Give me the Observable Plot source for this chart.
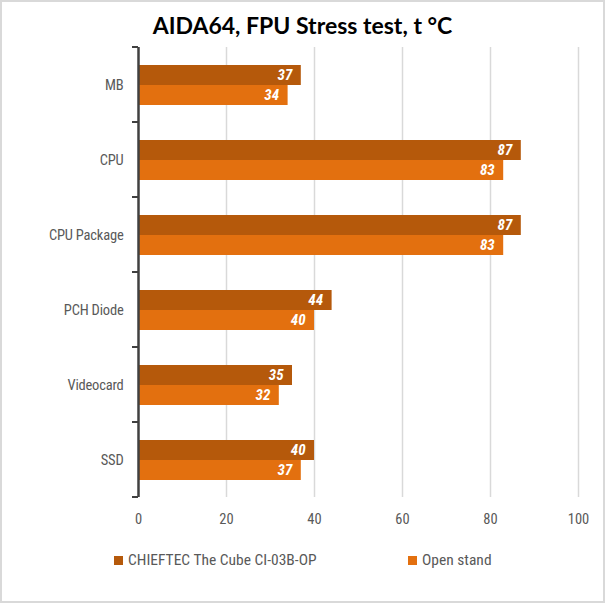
<!DOCTYPE html>
<html>
<head>
<meta charset="utf-8">
<script src="https://cdn.jsdelivr.net/npm/d3@7"></script>
<script src="https://cdn.jsdelivr.net/npm/@observablehq/plot@0.6"></script>
<style>
  html, body { margin: 0; padding: 0; background: #fff; }
  #wrap {
    position: relative; width: 605px; height: 603px; box-sizing: border-box;
    border: 2px solid #d9d9d9; background: #fff; overflow: hidden;
    font-family: "Roboto Condensed", "Liberation Sans Narrow", "DejaVu Sans Condensed", Roboto, sans-serif;
  }
  #title {
    height: 38px; line-height: 46px; text-align: center; font-family: Lato, "Liberation Sans", sans-serif;
    font-weight: bold; font-size: 23px; color: #000; padding-left: 0px;
  }
  #legend { position: absolute; top: 547px; left: 0; width: 601px; height: 24px; font-size: 15.5px; color: #595959; font-stretch: condensed; }
  .li { position: absolute; top: 0; display: flex; align-items: center; height: 22px; }
  .sw { width: 9px; height: 9px; margin-right: 5px; }
  .cat text { font-stretch: condensed; letter-spacing: -0.2px; }
</style>
</head>
<body>
<div id="wrap">
  <div id="title">AIDA64, FPU Stress test, t °C</div>
  <div id="chart"></div>
  <div id="legend"></div>
</div>
<script>
const categories = ["MB", "CPU", "CPU Package", "PCH Diode", "Videocard", "SSD"];
const seriesNames = ["CHIEFTEC The Cube CI-03B-OP", "Open stand"];
const chieftecValues = [37, 87, 87, 44, 35, 40];
const openStandValues = [34, 83, 83, 40, 32, 37];
const xTicks = [0, 20, 40, 60, 80, 100];
const colors = ["#B5590B", "#E3700F"];

const data = [];
categories.forEach((c, i) => {
  data.push({category: c, series: seriesNames[0], value: chieftecValues[i]});
  data.push({category: c, series: seriesNames[1], value: openStandValues[i]});
});

const fontFam = '"Roboto Condensed", "Liberation Sans Narrow", "DejaVu Sans Condensed", Roboto, sans-serif';

const chart = Plot.plot({
  width: 601,
  height: 500,
  marginTop: 6,
  marginBottom: 42,
  marginLeft: 136,
  marginRight: 25,
  style: {fontFamily: fontFam, fontSize: "14px", color: "#595959", background: "transparent"},
  x: {domain: [0, 100], ticks: xTicks, label: null},
  fy: {domain: categories, padding: 0, label: null},
  y: {domain: seriesNames, paddingInner: 0, paddingOuter: 0.79, axis: null},
  color: {domain: seriesNames, range: colors},
  marks: [
    Plot.gridX(xTicks.filter(d => d > 0), {stroke: "#d9d9d9", strokeOpacity: 1, strokeWidth: 1.5}),
    Plot.axisX({ticks: xTicks, tickSize: 0, tickPadding: 16, fontSize: 14.5, fill: "#595959", label: null, anchor: "bottom"}),
    Plot.axisFy({tickSize: 0, tickPadding: 15, fontSize: 14.5, fill: "#595959", label: null, anchor: "left", className: "cat"}),
    Plot.barX(data, {fy: "category", y: "series", x: "value", fill: "series", insetTop: 0, insetBottom: 0}),
    Plot.text(data, {fy: "category", y: "series", x: "value", text: d => String(d.value), textAnchor: "end", dx: -9,
      fill: "white", fontWeight: "bold", fontStyle: "italic", fontSize: 15}),
    Plot.ruleX([0], {stroke: "#404040", strokeWidth: 2.5})
  ]
});
document.getElementById("chart").appendChild(chart);

// category boundary ticks on the vertical axis, using the fy scale
const fy = chart.scale("fy");
const svg = d3.select(chart.tagName === "svg" ? chart : chart.querySelector("svg"));
const bounds = categories.map(c => fy.apply(c)).concat([fy.apply(categories[categories.length - 1]) + fy.step]);
svg.append("g").selectAll("line").data(bounds).join("line")
  .attr("x1", 136 - 6).attr("x2", 136)
  .attr("y1", d => d).attr("y2", d => d)
  .attr("stroke", "#404040").attr("stroke-width", 2);

// legend
const legend = d3.select("#legend");
const lpos = [112, 406];
seriesNames.forEach((s, i) => {
  const item = legend.append("div").attr("class", "li").style("left", lpos[i] + "px");
  item.append("div").attr("class", "sw").style("background", colors[i]);
  item.append("span").text(s);
});
</script>
</body>
</html>
